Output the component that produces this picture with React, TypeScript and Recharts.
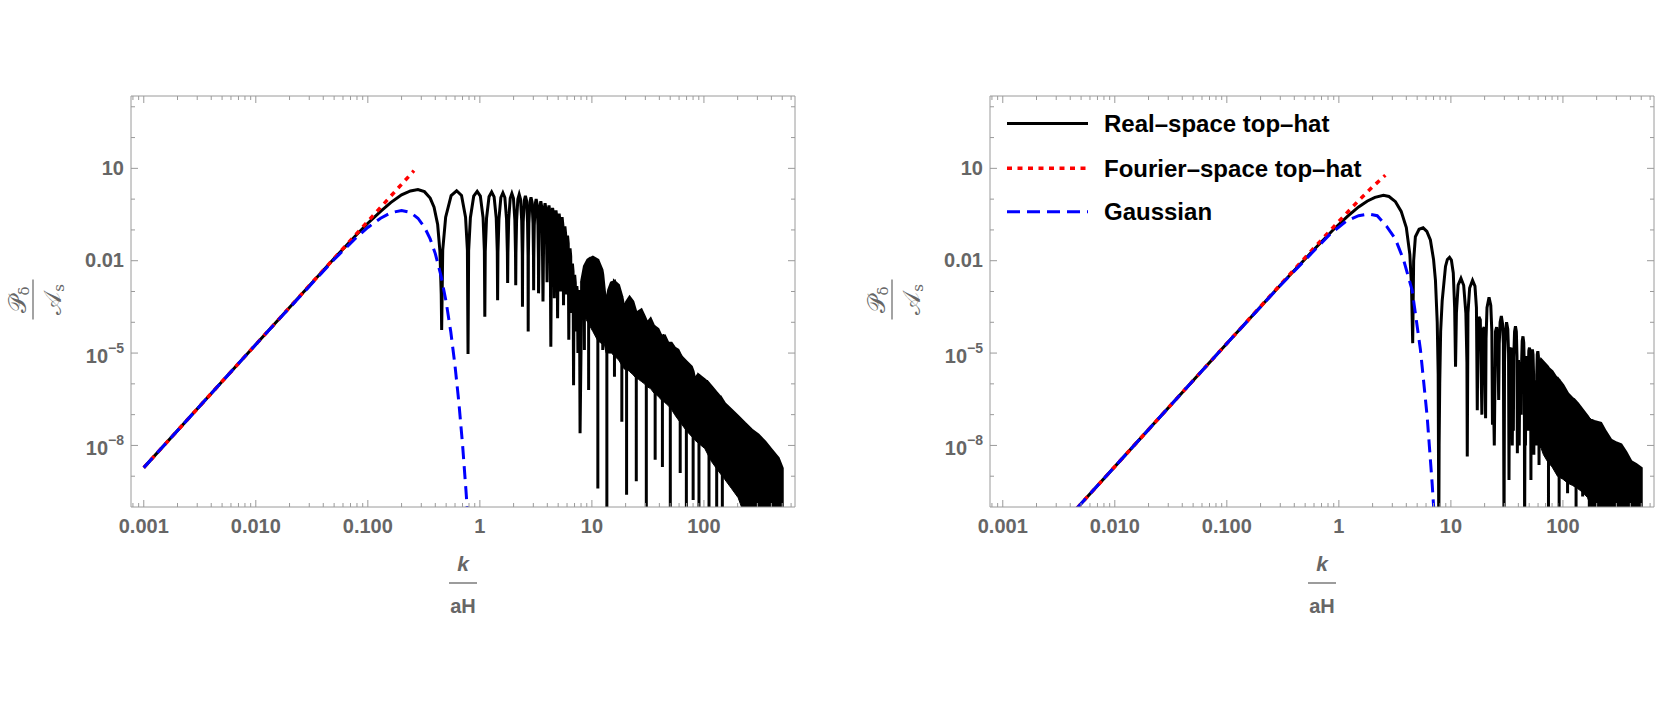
import React from 'react'
import { ComposedChart, Line, Area, XAxis, YAxis } from 'recharts'

type Pt = [number, number]
type Band = [number, number, number]

// k/aH vs P_delta/A_s. left panel: R = 10/aH, right panel: R = 1/aH

const leftReal: Pt[] = [
  [0.001, 1.9e-9], [0.01, 1.9e-5], [0.05, 0.0118], [0.08, 0.072], [0.1, 0.165], [0.13, 0.4],
  [0.16, 0.77], [0.2, 1.38], [0.24, 1.85], [0.28, 2.05], [0.32, 1.75], [0.36, 1.08], [0.39, 0.55],
  [0.42, 0.15], [0.44, 0.02], [0.452, 8e-4], [0.456, 5.6e-5],
  [0.466, 0.022], [0.495, 0.26], [0.554, 1.31], [0.62, 1.87], [0.686, 1.31], [0.745, 0.26], [0.774, 0.022], [0.784, 9.3e-6],
  [0.794, 0.021], [0.823, 0.25], [0.881, 1.25], [0.946, 1.79], [1.01, 1.25], [1.068, 0.25], [1.097, 0.021], [1.107, 1.5e-4],
  [1.117, 0.02], [1.147, 0.24], [1.207, 1.19], [1.274, 1.7], [1.34, 1.19], [1.4, 0.24], [1.43, 0.02], [1.44, 5.2e-4],
  [1.45, 0.019], [1.48, 0.225], [1.539, 1.13], [1.605, 1.61], [1.671, 1.13], [1.73, 0.225], [1.76, 0.019], [1.77, 1.9e-3],
  [1.78, 0.018], [1.808, 0.21], [1.866, 1.06], [1.93, 1.52], [1.994, 1.06], [2.052, 0.21], [2.08, 0.018], [2.09, 1.6e-3],
  [2.099, 0.017], [2.127, 0.2], [2.183, 0.99], [2.245, 1.42], [2.307, 0.99], [2.363, 0.2], [2.391, 0.017], [2.4, 3.2e-4],
  [2.409, 0.015], [2.436, 0.18], [2.49, 0.9], [2.55, 1.29], [2.61, 0.9], [2.664, 0.18], [2.691, 0.015], [2.7, 5e-5],
  [2.71, 0.014], [2.738, 0.16], [2.796, 0.8], [2.86, 1.14], [2.924, 0.8], [2.982, 0.16], [3.01, 0.014], [3.02, 1.1e-3],
  [3.03, 0.012], [3.06, 0.14], [3.12, 0.7], [3.18, 1.0], [3.24, 0.7], [3.3, 0.14], [3.33, 0.012], [3.34, 8.7e-4],
  [3.41, 0.47], [3.5, 0.86], [3.59, 0.47], [3.66, 4.7e-4], [3.73, 0.41], [3.82, 0.74], [3.91, 0.41], [3.98, 2e-3],
  [4.05, 0.34], [4.14, 0.62], [4.23, 0.34], [4.3, 1.6e-5], [4.37, 0.29], [4.46, 0.52], [4.55, 0.29], [4.62, 6e-4],
  [4.69, 0.24], [4.78, 0.43], [4.87, 0.24], [4.94, 1.35e-4], [5.01, 0.19], [5.1, 0.34], [5.19, 0.19], [5.26, 1e-3],
  [5.33, 0.14], [5.42, 0.26], [5.51, 0.14], [5.58, 3.6e-4], [5.65, 0.072], [5.74, 0.13], [5.83, 0.072], [5.9, 8e-4],
  [5.97, 0.036], [6.06, 0.065], [6.15, 0.036], [6.22, 2.7e-5], [6.29, 0.014], [6.38, 0.025], [6.47, 0.014], [6.54, 2e-4],
  [6.61, 4.4e-3], [6.7, 8e-3], [6.79, 4.4e-3], [6.86, 9e-7], [6.93, 1.9e-3], [7.02, 3.5e-3], [7.11, 1.9e-3], [7.18, 5e-5],
  [7.25, 8e-4], [7.34, 1.5e-3], [7.43, 8e-4], [7.5, 1e-5], [7.57, 6e-4], [7.66, 1.1e-3], [7.75, 6e-4], [7.84, 2.5e-8],
  [8.13, 2.3e-3], [8.57, 6.5e-3], [8.57, 1.26e-5], [8.57, 6.5e-3], [9.18, 0.0105], [9.35, 0.011], [9.35, 6.3e-7], [9.35, 0.011],
  [10.2, 0.0129], [11.3, 0.0105], [11.3, 4e-10], [11.3, 0.0105], [12.3, 5e-3], [12.5, 3.5e-3], [12.5, 1.26e-5], [12.5, 3.5e-3],
  [12.9, 1.1e-3], [13.4, 3.2e-4], [13.6, 5e-4], [13.6, 1e-11], [13.6, 5e-4], [14.1, 1.1e-3], [14.9, 1.9e-3],
  [15.9, 2.1e-3], [15.9, 1.7e-6], [15.9, 2.1e-3], [17.3, 1.6e-3], [18.5, 6.8e-4], [18.5, 5.9e-8], [18.5, 6.8e-4],
  [19.5, 2.5e-4], [20.4, 4.6e-4], [20.4, 2.5e-10], [20.4, 4.6e-4], [21.7, 6.5e-4], [23.2, 4.7e-4],
  [24.9, 1.95e-4], [24.9, 6.8e-10], [24.9, 1.95e-4], [26.1, 2.2e-4], [27.6, 2.5e-4], [29.5, 1.5e-4],
  [30.6, 1.1e-4], [30.6, 1e-11], [30.6, 1.1e-4], [31.2, 9.3e-5], [33.4, 1.26e-4], [35.8, 7.2e-5],
  [36.7, 7e-5], [36.7, 3.4e-9], [36.7, 7e-5], [38.9, 6e-5], [41.7, 3.4e-5], [42.6, 3.5e-5], [42.6, 2e-9], [42.6, 3.5e-5],
  [44.6, 3.6e-5], [47.8, 2.1e-5], [50.1, 2.1e-5], [50.1, 1e-11], [50.1, 2.1e-5], [51.2, 2.1e-5], [54.8, 1.45e-5],
  [58.7, 1.26e-5], [61.4, 9e-6], [61.4, 1.26e-9], [61.4, 9e-6], [63, 7.6e-6], [69.7, 5.2e-6], [69.7, 1e-11], [69.7, 5.2e-6],
  [77.3, 3.6e-6], [80.1, 2.5e-6], [80.1, 1.7e-10], [80.1, 2.5e-6], [82.8, 1.35e-6], [88.7, 1.95e-6],
  [90.3, 1.9e-6], [90.3, 1e-11], [90.3, 1.9e-6], [101.6, 1.35e-6], [111, 1e-6], [111, 1e-11], [111, 1e-6],
  [116.7, 8.1e-7], [130, 5e-7], [130, 1e-11], [130, 5e-7], [134, 4.4e-7], [146, 3e-7], [146, 1e-11], [146, 3e-7],
  [153, 2.3e-7], [176, 1.4e-7], [202, 8.7e-8], [232, 5.2e-8], [266, 3.2e-8], [305, 2.2e-8], [351, 1.3e-8],
  [402, 7e-9], [461, 3.8e-9], [500, 1.8e-9], [500, 1e-11],
]

// dense oscillation region: [k, lower edge of the solid black, upper envelope]
const leftBand: Band[] = [
  [7.9, 3e-4, 2e-3], [8.13, 2e-4, 2.3e-3], [8.57, 1.5e-4, 6.5e-3], [9.18, 1e-4, 0.0105], [10.2, 5e-5, 0.0129],
  [11.3, 2.5e-5, 0.0105], [12.3, 2e-5, 5e-3], [12.9, 2e-5, 1.1e-3], [13.4, 1e-5, 3.2e-4], [14.1, 1e-5, 1.1e-3],
  [14.9, 1e-5, 1.9e-3], [15.9, 8e-6, 2.1e-3], [17.3, 6e-6, 1.6e-3], [18.5, 4e-6, 6.8e-4], [19.5, 3e-6, 2.5e-4],
  [20.5, 3e-6, 4.7e-4], [21.7, 2.5e-6, 6.5e-4], [23.2, 2e-6, 4.7e-4], [24.9, 1.5e-6, 1.95e-4], [26.1, 1.4e-6, 2.2e-4],
  [27.6, 1.2e-6, 2.5e-4], [29.5, 1e-6, 1.5e-4], [31.2, 8e-7, 9.3e-5], [33.4, 7e-7, 1.26e-4], [35.8, 5e-7, 7.2e-5],
  [38.9, 4e-7, 6e-5], [41.7, 3e-7, 3.4e-5], [44.6, 2.5e-7, 3.6e-5], [47.8, 2e-7, 2.1e-5], [51.2, 1.5e-7, 2.1e-5],
  [54.8, 1e-7, 1.45e-5], [58.7, 7e-8, 1.26e-5], [63, 5e-8, 7.6e-6], [69.7, 3e-8, 5.2e-6], [77.3, 2e-8, 3.6e-6],
  [82.8, 1.5e-8, 1.35e-6], [88.7, 1.2e-8, 1.95e-6], [101.6, 8e-9, 1.35e-6], [116.7, 3e-9, 8.1e-7], [134, 1.5e-9, 4.4e-7],
  [153, 8e-10, 2.3e-7], [176, 4e-10, 1.4e-7], [202, 2e-10, 8.7e-8], [232, 5e-11, 5.2e-8], [266, 5e-11, 3.2e-8],
  [305, 5e-11, 2.2e-8], [351, 5e-11, 1.3e-8], [402, 5e-11, 7e-9], [461, 5e-11, 3.8e-9], [500, 5e-11, 1.8e-9],
]

const leftFourier: Pt[] = [[0.001, 1.9e-9], [0.01, 1.9e-5], [0.1, 0.19], [0.258, 8.4]]

const leftGauss: Pt[] = [
  [0.001, 1.9e-9], [0.01, 1.9e-5], [0.05, 0.011], [0.08, 0.059], [0.1, 0.12], [0.13, 0.24], [0.16, 0.36],
  [0.2, 0.43], [0.24, 0.37], [0.28, 0.24], [0.32, 0.124], [0.36, 0.051], [0.4, 0.017], [0.45, 3.2e-3],
  [0.5, 4.6e-4], [0.55, 4.9e-5], [0.6, 3.9e-6], [0.65, 2.4e-7], [0.7, 1.1e-8], [0.75, 3.8e-10], [0.8, 1.3e-11],
]

const rightReal: Pt[] = [
  [0.0046, 9.2e-11], [0.01, 2.05e-9], [0.1, 2.05e-5], [0.3, 1.6e-3], [0.6, 0.023], [0.9, 0.105], [1.2, 0.28],
  [1.5, 0.56], [1.8, 0.87], [2.1, 1.14], [2.5, 1.33], [2.8, 1.22], [3.2, 0.83], [3.6, 0.4], [4.0, 0.12],
  [4.3, 0.016], [4.45, 1.5e-3], [4.56, 2.1e-5],
  [4.65, 0.01], [4.82, 0.06], [5.2, 0.105], [5.65, 0.117], [6.1, 0.09], [6.56, 0.047], [7.0, 0.011], [7.28, 2.3e-3],
  [7.55, 1e-4], [7.7, 2e-6], [7.8, 1e-11],
  [7.85, 1e-8], [7.95, 1e-6], [8.1, 5e-5], [8.36, 5e-4], [8.95, 6.5e-3], [9.3, 0.011], [9.72, 0.0129], [10.1, 0.0105],
  [10.5, 4e-3], [10.8, 3e-4], [11.0, 3.6e-6],
  [11.2, 2e-4], [11.6, 1.6e-3], [12.3, 2.7e-3], [13.0, 1.6e-3], [13.6, 2e-4], [13.9, 5e-6], [14.0, 4.4e-9],
  [14.2, 2e-4], [14.7, 1.3e-3], [15.6, 2.3e-3], [16.4, 1.5e-3], [16.9, 3e-4], [17.2, 1.4e-7],
  [17.4, 2e-5], [17.8, 1.5e-4], [18.3, 1.2e-4], [18.9, 1e-7], [19.4, 6e-5], [19.8, 7e-5], [20.2, 1e-5], [20.4, 7.6e-8],
  [20.6, 3e-5], [21.0, 3e-4], [21.9, 6.5e-4], [22.7, 3.5e-4], [23.2, 5e-5], [23.5, 4.7e-8],
  [23.8, 2e-6], [24.4, 1e-8], [25.0, 5e-5], [25.6, 7e-5], [26.2, 2.5e-5], [26.7, 3e-7],
  [27.0, 2e-5], [27.5, 1e-4], [28.2, 1.6e-4], [28.9, 9e-5], [29.4, 2e-5], [29.8, 1e-11],
  [30.1, 5e-6], [30.6, 5e-5], [31.4, 1e-4], [32.2, 6e-5], [32.7, 1e-5], [33.0, 7.6e-10],
  [33.3, 1e-6], [34.0, 1.3e-5], [34.6, 1.5e-5], [35.3, 1e-8], [35.8, 3e-6], [36.1, 3e-8],
  [36.4, 7e-6], [37.0, 5e-5], [37.7, 7.5e-5], [38.4, 5e-5], [38.9, 8e-6], [39.2, 5.6e-9],
  [39.6, 4e-6], [40.1, 6e-6], [40.7, 1e-8], [41.3, 5e-6], [41.9, 3e-6], [42.4, 1e-7],
  [42.7, 4e-6], [43.3, 2.5e-5], [44.0, 3.5e-5], [44.7, 2.2e-5], [45.2, 4e-6], [45.5, 1e-11],
  [45.9, 3e-7], [46.3, 1e-8], [46.9, 5e-6], [47.5, 8e-6], [48.2, 3e-6], [48.7, 3e-8],
  [49.0, 2e-6], [49.6, 1.2e-5], [50.3, 1.5e-5], [51.0, 1e-5], [51.5, 2e-6], [51.8, 7.6e-10],
  [52.1, 2e-6], [52.7, 9e-6], [53.4, 1.3e-5], [54.1, 9e-6], [54.7, 2e-6], [55.0, 5e-9],
  [55.5, 1e-6], [56.0, 1.3e-6], [56.8, 3e-7], [57.3, 1e-7], [57.7, 2e-7], [58.1, 1e-8],
  [58.4, 2e-6], [59.0, 9e-6], [59.7, 1.15e-5], [60.4, 8e-6], [60.9, 2e-6], [61.2, 2.3e-9],
  [61.6, 4e-6], [64, 6e-6], [67, 5e-6], [72.8, 3.6e-6], [74.3, 3.2e-6], [74.3, 1e-11], [74.3, 3.2e-6],
  [80, 2.5e-6], [89.4, 1.35e-6], [92.5, 1.3e-6], [92.5, 1e-11], [92.5, 1.3e-6], [100, 9e-7],
  [110, 4.9e-7], [110, 2.8e-10], [110, 4.9e-7], [122, 3.3e-7], [131, 2.6e-7], [131, 1e-11], [131, 2.6e-7],
  [135, 2.3e-7], [150, 1.4e-7], [150, 2.2e-10], [150, 1.4e-7], [166, 8.7e-8], [172, 7e-8], [172, 1e-11], [172, 7e-8],
  [190, 6e-8], [218, 5.2e-8], [240, 2.8e-8], [268, 1.5e-8], [300, 1.2e-8], [330, 1.05e-8], [365, 6e-9],
  [405, 3e-9], [450, 2.4e-9], [500, 1.8e-9], [500, 1e-11],
]

const rightBand: Band[] = [
  [61.2, 1e-8, 4e-6], [64, 8e-9, 6e-6], [67, 5e-9, 5e-6], [72.8, 3e-9, 3.6e-6], [80, 2e-9, 2.5e-6],
  [89.4, 1e-9, 1.35e-6], [100, 8e-10, 9e-7], [110, 6e-10, 4.9e-7], [122, 5e-10, 3.3e-7], [135, 4e-10, 2.3e-7],
  [150, 3e-10, 1.4e-7], [166, 2e-10, 8.7e-8], [190, 5e-11, 6e-8], [218, 5e-11, 5.2e-8], [240, 5e-11, 2.8e-8],
  [268, 5e-11, 1.5e-8], [300, 5e-11, 1.2e-8], [330, 5e-11, 1.05e-8], [365, 5e-11, 6e-9], [405, 5e-11, 3e-9],
  [450, 5e-11, 2.4e-9], [500, 5e-11, 1.8e-9],
]

const rightFourier: Pt[] = [
  [0.0046, 9.2e-11], [0.01, 2.05e-9], [0.1, 2.05e-5], [0.3, 1.65e-3], [0.6, 0.026], [1, 0.19], [1.5, 0.9],
  [2, 2.5], [2.6, 6.0],
]

const rightGauss: Pt[] = [
  [0.0046, 9.2e-11], [0.01, 2.05e-9], [0.1, 2.04e-5], [0.3, 1.57e-3], [0.6, 0.021], [0.84, 0.075], [1.18, 0.2],
  [1.5, 0.29], [1.84, 0.33], [2.2, 0.29], [2.69, 0.126], [3.2, 0.05], [3.79, 0.0104], [4.51, 1.1e-3],
  [5.35, 1.26e-5], [6.14, 8.7e-8], [6.8, 5.9e-10], [7.1, 5e-11],
]

const xMajor = [0.001, 0.01, 0.1, 1, 10, 100]
const xMajorLabels = ['0.001', '0.010', '0.100', '1', '10', '100']
const yMajor = [10, 0.01, 1e-5, 1e-8]
const yMinor = [1000, 100, 1, 0.1, 0.001, 1e-4, 1e-6, 1e-7, 1e-9]
const legendNames = ['Real–space top–hat', 'Fourier–space top–hat', 'Gaussian']

const X_DOMAIN: [number, number] = [7.69e-4, 650]
const Y_DOMAIN: [number, number] = [1e-10, 2239]

const xMinor: number[] = []
for (const d of [1e-4, 1e-3, 1e-2, 0.1, 1, 10, 100]) {
  for (let m = 2; m <= 9; m++) {
    const v = +(m * d).toPrecision(3)
    if (v > X_DOMAIN[0] && v < X_DOMAIN[1]) xMinor.push(v)
  }
}
const xTicks = [...xMajor, ...xMinor].sort((a, b) => a - b)
const yTicks = [...yMajor, ...yMinor].sort((a, b) => a - b)

const FONT = '"Liberation Sans", Arial, Helvetica, sans-serif'
const FRAME = '#9a9a9a'
const LABEL = '#666'

const isMajorX = (v: number) => xMajor.indexOf(v)
const isMajorY = (v: number) => yMajor.indexOf(v)

function XTickBottom(props: any) {
  const { x, y, payload } = props
  const i = isMajorX(payload.value)
  return (
    <g>
      <line x1={x} x2={x} y1={y} y2={y - (i >= 0 ? 7 : 4)} stroke={FRAME} />
      {i >= 0 && (
        <text x={x} y={y + 26} textAnchor="middle" fontFamily={FONT} fontWeight="bold" fontSize={20} fill={LABEL}>
          {xMajorLabels[i]}
        </text>
      )}
    </g>
  )
}

function XTickTop(props: any) {
  const { x, y, payload } = props
  const len = isMajorX(payload.value) >= 0 ? 7 : 4
  return <line x1={x} x2={x} y1={y} y2={y + len} stroke={FRAME} />
}

function YTickLeft(props: any) {
  const { x, y, payload } = props
  const i = isMajorY(payload.value)
  const txt = { fontFamily: FONT, fontWeight: 'bold' as const, fill: LABEL }
  let label: React.ReactNode = null
  if (i === 0 || i === 1) {
    label = (
      <text x={x - 7} y={y + 6.5} textAnchor="end" fontSize={20} {...txt}>
        {i === 0 ? '10' : '0.01'}
      </text>
    )
  } else if (i > 1) {
    label = (
      <text x={x - 7} y={y + 10} textAnchor="end" fontSize={20} {...txt}>
        10
        <tspan dy={-10} fontSize={14}>{i === 2 ? '−5' : '−8'}</tspan>
      </text>
    )
  }
  return (
    <g>
      <line x1={x} x2={x + (i >= 0 ? 7 : 4)} y1={y} y2={y} stroke={FRAME} />
      {label}
    </g>
  )
}

function YTickRight(props: any) {
  const { x, y, payload } = props
  const len = isMajorY(payload.value) >= 0 ? 7 : 4
  return <line x1={x} x2={x - len} y1={y} y2={y} stroke={FRAME} />
}

function XLabel(props: any) {
  const vb = props.viewBox
  const cx = vb.x + vb.width / 2
  const top = vb.y
  return (
    <g fontFamily={FONT} fontWeight="bold" fill={LABEL}>
      <text x={cx} y={top + 64} textAnchor="middle" fontStyle="italic" fontSize={21}>k</text>
      <line x1={cx - 14} x2={cx + 14} y1={top + 76} y2={top + 76} stroke={LABEL} strokeWidth={1.3} />
      <text x={cx} y={top + 106} textAnchor="middle" fontSize={20}>aH</text>
    </g>
  )
}

function YLabel(props: any) {
  const vb = props.viewBox
  const cx = vb.x + 33
  const cy = vb.y + vb.height / 2 - 2
  return (
    <g transform={`rotate(-90 ${cx} ${cy})`} fill={LABEL} fontFamily='"DejaVu Serif", "DejaVu Sans", serif'>
      <text x={cx} y={cy - 7} textAnchor="middle" fontSize={24}>
        𝒫<tspan fontSize={15} dy={3}>δ</tspan>
      </text>
      <line x1={cx - 20} x2={cx + 20} y1={cy} y2={cy} stroke={LABEL} strokeWidth={1.2} />
      <text x={cx} y={cy + 28} textAnchor="middle" fontSize={24}>
        𝒜<tspan fontSize={15} dy={3}>s</tspan>
      </text>
    </g>
  )
}

const legendStyles = [
  { stroke: '#000', width: 3, dash: undefined as string | undefined },
  { stroke: '#ff0000', width: 3.5, dash: '5 5.5' },
  { stroke: '#0000ff', width: 3, dash: '13 7' },
]

function LegendBox() {
  const rows = [123.5, 168.3, 211.7]
  return (
    <svg width={808} height={709} style={{ position: 'absolute', left: 0, top: 0, pointerEvents: 'none' }}>
      {legendNames.map((name, i) => (
        <g key={name}>
          <line x1={148} x2={229} y1={rows[i]} y2={rows[i]} stroke={legendStyles[i].stroke}
            strokeWidth={legendStyles[i].width} strokeDasharray={legendStyles[i].dash} />
          <text x={245} y={rows[i] + 8.7} fontFamily={FONT} fontWeight="bold" fontSize={24} fill="#000">{name}</text>
        </g>
      ))}
    </svg>
  )
}

function Panel(p: { left: number; real: Pt[]; band: Band[]; fourier: Pt[]; gauss: Pt[]; legend?: boolean }) {
  const realRows = p.real.map(([k, v]) => ({ k, v }))
  const bandRows = p.band.map(([k, lo, hi]) => ({ k, r: [lo, hi] }))
  const fourierRows = p.fourier.map(([k, v]) => ({ k, v }))
  const gaussRows = p.gauss.map(([k, v]) => ({ k, v }))
  return (
    <div style={{ position: 'absolute', left: p.left, top: 0, width: 808, height: 709 }}>
      <ComposedChart width={808} height={709} margin={{ top: 95, right: 12, bottom: 82, left: 0 }}>
        <XAxis xAxisId="x" dataKey="k" type="number" scale="log" domain={X_DOMAIN} allowDataOverflow
          ticks={xTicks} interval={0} tickSize={0} tickMargin={0} tickLine={false}
          tick={(t: any) => <XTickBottom {...t} />} axisLine={{ stroke: FRAME }} height={120}
          label={(l: any) => <XLabel {...l} />} />
        <XAxis xAxisId="xt" orientation="top" dataKey="k" type="number" scale="log" domain={X_DOMAIN} allowDataOverflow
          ticks={xTicks} interval={0} tickSize={0} tickMargin={0} tickLine={false}
          tick={(t: any) => <XTickTop {...t} />} axisLine={{ stroke: FRAME }} height={1} />
        <YAxis yAxisId="y" type="number" scale="log" domain={Y_DOMAIN} allowDataOverflow
          ticks={yTicks} interval={0} tickSize={0} tickMargin={0} tickLine={false}
          tick={(t: any) => <YTickLeft {...t} />} axisLine={{ stroke: FRAME }} width={131}
          label={(l: any) => <YLabel {...l} />} />
        <YAxis yAxisId="yr" orientation="right" type="number" scale="log" domain={Y_DOMAIN} allowDataOverflow
          ticks={yTicks} interval={0} tickSize={0} tickMargin={0} tickLine={false}
          tick={(t: any) => <YTickRight {...t} />} axisLine={{ stroke: FRAME }} width={1} />
        <Area xAxisId="x" yAxisId="y" data={bandRows} dataKey="r" type="linear" stroke="#000" strokeWidth={1}
          fill="#000" fillOpacity={1} dot={false} activeDot={false} isAnimationActive={false} />
        <Line xAxisId="x" yAxisId="y" data={realRows} dataKey="v" type="linear" stroke="#000" strokeWidth={3}
          dot={false} activeDot={false} isAnimationActive={false} />
        <Line xAxisId="x" yAxisId="y" data={fourierRows} dataKey="v" type="linear" stroke="#ff0000" strokeWidth={3.5}
          strokeDasharray="5 5.5" dot={false} activeDot={false} isAnimationActive={false} />
        <Line xAxisId="x" yAxisId="y" data={gaussRows} dataKey="v" type="linear" stroke="#0000ff" strokeWidth={3}
          strokeDasharray="13 7" dot={false} activeDot={false} isAnimationActive={false} />
      </ComposedChart>
      {p.legend && <LegendBox />}
    </div>
  )
}

export default function App() {
  return (
    <div style={{ position: 'absolute', left: 0, top: 0, width: 1667, height: 709, overflow: 'hidden', background: '#fff' }}>
      <Panel left={0} real={leftReal} band={leftBand} fourier={leftFourier} gauss={leftGauss} />
      <Panel left={859} real={rightReal} band={rightBand} fourier={rightFourier} gauss={rightGauss} legend />
    </div>
  )
}
